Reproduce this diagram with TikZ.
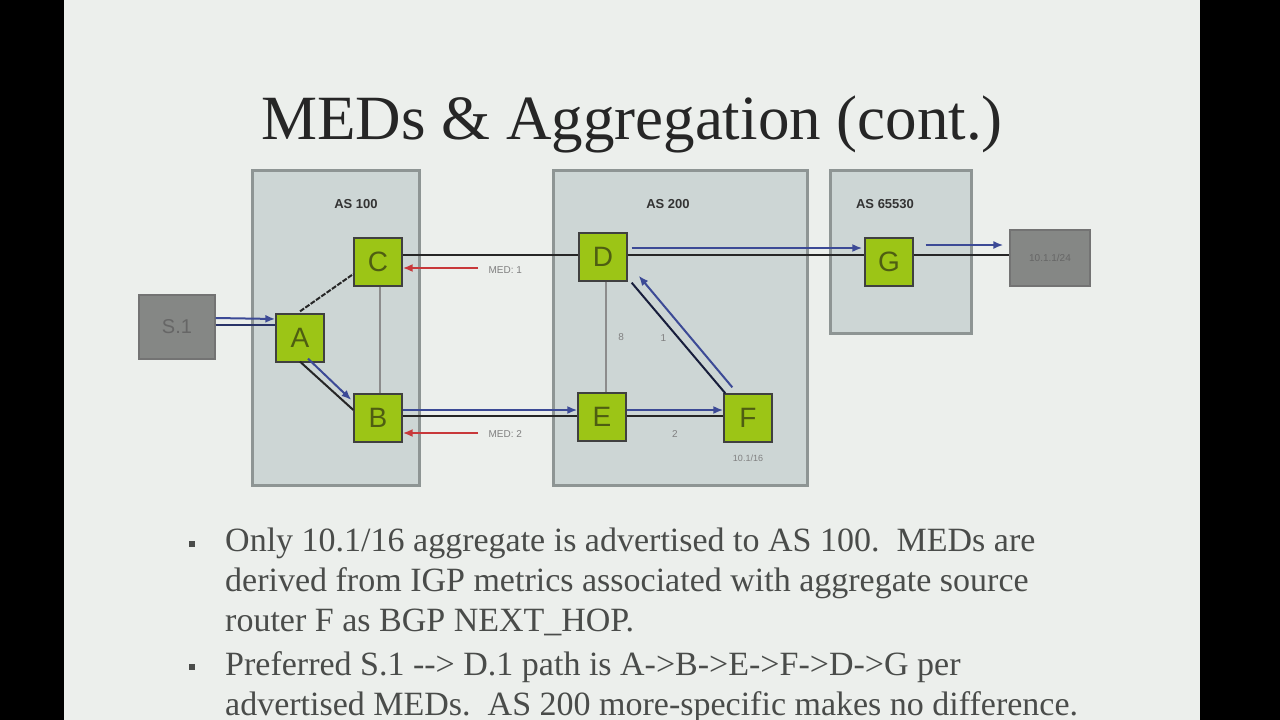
\documentclass[tikz,border=0pt]{standalone}
\usepackage{fontspec}
\setmainfont{Liberation Serif}
\setsansfont{Liberation Sans}
\usetikzlibrary{arrows.meta,calc}
\definecolor{slidebg}{HTML}{ECEFEC}
\definecolor{asfill}{HTML}{CDD6D5}
\definecolor{asdraw}{HTML}{8E9594}
\definecolor{rgreen}{HTML}{9CC516}
\definecolor{rtext}{HTML}{4E5E12}
\definecolor{hostfill}{HTML}{858785}
\definecolor{flowblue}{HTML}{3C4A96}
\definecolor{medred}{HTML}{C8383A}
\definecolor{bodytext}{HTML}{4A4C4A}
\tikzset{
  asbox/.style={draw=asdraw, fill=asfill, line width=3pt},
  aslabel/.style={font=\sffamily\bfseries\fontsize{13}{13}\selectfont, text=black!80},
  router/.style={draw=black!75, line width=1.3pt, fill=rgreen, minimum width=48pt, minimum height=48pt, inner sep=0pt, font=\sffamily\fontsize{28}{28}\selectfont, text=rtext},
  host/.style={draw=black!55, line width=1.2pt, fill=hostfill, inner sep=0pt, font=\sffamily\fontsize{20}{20}\selectfont, text=black!60},
  link/.style={draw=black!85, line width=2pt},
  ilink/.style={draw=black!45, line width=2pt},
  flow/.style={draw=flowblue, line width=2pt, -{Latex[length=10pt,width=8pt]}},
  med/.style={draw=medred, line width=2pt, -{Latex[length=10pt,width=8pt]}},
  small/.style={font=\sffamily\fontsize{10}{10}\selectfont, text=black!50},
  bullet/.style={font=\fontsize{34}{40}\selectfont, text=bodytext, anchor=north west, align=left, inner sep=0pt}
}
\begin{document}
\begin{tikzpicture}[x=1pt,y=-1pt]
\useasboundingbox (0,0) rectangle (1280,720);
\fill[black] (0,0) rectangle (1280,720);
\fill[slidebg] (64,0) rectangle (1200,720);
% title
\node[font=\fontsize{63}{63}\selectfont, text=black!85] (title) at (632,124) {MEDs \& Aggregation (cont.)};
% AS boxes
\draw[asbox] (252,170) rectangle (419,485);
\draw[asbox] (553,170) rectangle (807,485);
\draw[asbox] (830,170) rectangle (971,333);
\node[aslabel] (as100) at (356,204) {AS 100};
\node[aslabel] (as200) at (668,204) {AS 200};
\node[aslabel] (as65530) at (885,204) {AS 65530};
% hosts
\node[host, minimum width=76pt, minimum height=64pt] (S) at (177,327) {S.1};
\node[host, minimum width=80pt, minimum height=56pt, font=\sffamily\fontsize{10}{10}\selectfont] (H) at (1050,258) {10.1.1/24};
% routers
\node[router] (C) at (378,262) {C};
\node[router] (A) at (300,338) {A};
\node[router] (B) at (378,418) {B};
\node[router] (D) at (603,257) {D};
\node[router] (E) at (602,417) {E};
\node[router] (F) at (748,418) {F};
\node[router] (G) at (889,262) {G};
% links
\draw[link, dash pattern=on 5pt off 1.5pt] ($(A.north)+(0,-2)$) -- ($(C.west)+(0,12)$);
\draw[ilink] (C.south -| 380,0) -- (B.north -| 380,0);
\draw[link] ($(C.east)+(0,-7)$) -- ($(D.west)+(0,-2)$);
\draw[ilink] (D.south -| 606,0) -- node[small, right=8pt] {8} (E.north -| 606,0);
\draw[link] ($(D.east)+(0,-2)$) -- ($(G.west)+(0,-7)$);
\draw[link] ($(G.east)+(0,-7)$) -- ($(H.west)+(0,-3)$);
\draw[link, draw=flowblue!70!black] ($(S.east)+(0,-2)$) -- ($(A.west)+(0,-13)$);
\draw[link] ($(A.south)+(0,-1)$) -- ($(B.west)+(0,-8)$);
\draw[link] ($(B.east)+(0,-2)$) -- ($(E.west)+(0,-1)$);
\draw[link] ($(E.east)+(0,-1)$) -- node[small, below=10pt] {2} ($(F.west)+(0,-2)$);
\draw[link, draw=black!60!flowblue] ($(F.north west)+(2,0)$) -- ($(D.south east)+(4,1)$) node[pos=0.5, small, left=8pt] {1};
% flows
\draw[flow] ($(S.east)+(0,-9)$) -- ($(A.west)+(0,-19)$);
\draw[flow] ($(A.south)+(8,-4)$) -- ($(B.west)+(-2,-18)$);
\draw[flow] ($(B.east)+(0,-8)$) -- ($(E.west)+(0,-7)$);
\draw[flow] ($(E.east)+(0,-7)$) -- ($(F.west)+(0,-8)$);
\draw[flow] ($(F.north west)+(9,-6)$) -- ($(D.south east)+(11,-6)$);
\draw[flow] ($(D.east)+(4,-9)$) -- ($(G.west)+(-2,-14)$);
\draw[flow] ($(G.east)+(12,-17)$) -- ($(H.west)+(-6,-13)$);
% MED arrows
\coordinate (m1) at (478,268);
\coordinate (m2) at (478,433);
\draw[med] (m1) -- (C.east |- m1);
\draw[med] (m2) -- (B.east |- m2);
\node[small, anchor=west] (med1) at (485,270) {MED: 1};
\node[small, anchor=west] (med2) at (485,434) {MED: 2};
\node[small, font=\sffamily\fontsize{9}{9}\selectfont] (agg) at (748,458) {10.1/16};
% bullets
\node[fill=bodytext, minimum size=6pt, inner sep=0pt] (b1) at (192,544) {};
\node[fill=bodytext, minimum size=6pt, inner sep=0pt] (b2) at (192,667) {};
\node[bullet] (t1) at (225,528) {Only 10.1/16 aggregate is advertised to AS 100.\ \ MEDs are\\derived from IGP metrics associated with aggregate source\\router F as BGP NEXT\_HOP.};
\node[bullet] (t2) at (225,651) {Preferred S.1 -{}-{}> D.1 path is A->B->E->F->D->G per\\advertised MEDs.\ \ AS 200 more-specific makes no difference.};
\end{tikzpicture}
\end{document}
